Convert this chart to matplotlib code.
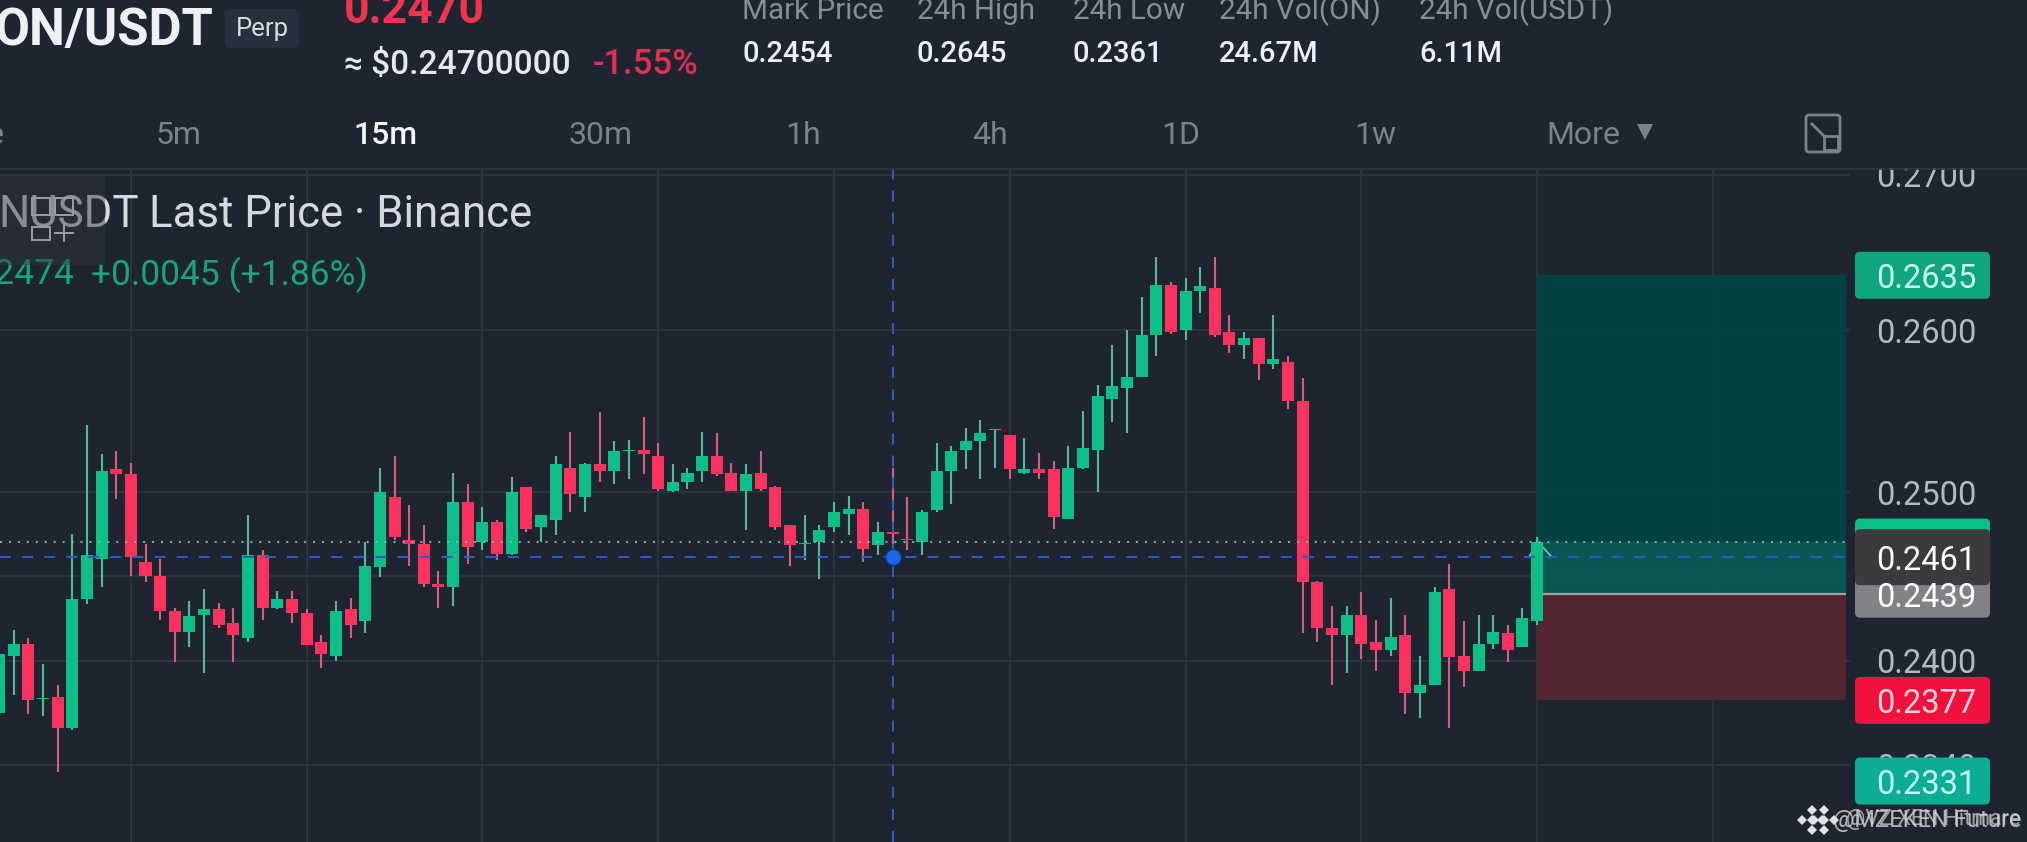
import numpy as np
import matplotlib
matplotlib.use("Agg")
import matplotlib.pyplot as plt
from matplotlib.patches import FancyBboxPatch, Rectangle
from matplotlib.transforms import IdentityTransform
from matplotlib.ticker import NullLocator

plt.rcParams["font.family"] = ["Roboto", "DejaVu Sans"]

W, H = 2027, 842
BG = "#1e2530"
GREEN = "#0dbf87"
RED = "#f9325e"
GRID = "#2b333e"

# ON/USDT 15m candles, oldest first, first one is cut by the left edge
opens = [.2370, .2403, .2410, .2378, .2379, .2361, .2436, .2460, .2514, .2511, .2458, .2450, .2429, .2417, .2427, .2430,
         .2422, .2413, .2462, .2431, .2436, .2428, .2411, .2403, .2430, .2423, .2455, .2497, .2471, .2469, .2445, .2443,
         .2494, .2470, .2482, .2463, .2503, .2479, .2483, .2515, .2497, .2517, .2513, .2525, .2526, .2522, .2501, .2506,
         .2513, .2522, .2512, .2501, .2512, .2503, .2480, .2469, .2470, .2479, .2487, .2490, .2468, .2476, .2472, .2470,
         .2489, .2513, .2526, .2531, .2538, .2535, .2512, .2514, .2514, .2484, .2515, .2526, .2557, .2564, .2571, .2597,
         .2629, .2600, .2625, .2627, .2599, .2591, .2595, .2579, .2580, .2556, .2446, .2419, .2415, .2427, .2411, .2406,
         .2415, .2381, .2386, .2442, .2403, .2394, .2410, .2416, .2408, .2423]
highs = [.2405, .2418, .2413, .2398, .2386, .2475, .2541, .2523, .2525, .2518, .2469, .2460, .2431, .2435, .2442, .2434,
         .2431, .2486, .2465, .2441, .2441, .2430, .2415, .2435, .2437, .2470, .2515, .2522, .2492, .2480, .2453, .2512,
         .2505, .2491, .2483, .2509, .2503, .2486, .2522, .2537, .2518, .2549, .2531, .2532, .2546, .2530, .2517, .2515,
         .2537, .2536, .2518, .2517, .2525, .2504, .2480, .2486, .2480, .2494, .2498, .2494, .2482, .2515, .2497, .2489,
         .2530, .2528, .2539, .2544, .2538, .2535, .2533, .2524, .2519, .2528, .2550, .2566, .2591, .2600, .2621, .2647,
         .2631, .2633, .2640, .2647, .2610, .2599, .2595, .2610, .2584, .2570, .2447, .2432, .2432, .2440, .2424, .2437,
         .2427, .2403, .2443, .2457, .2423, .2427, .2427, .2421, .2431, .2473]
lows = [.2366, .2380, .2369, .2368, .2336, .2360, .2433, .2443, .2496, .2450, .2446, .2424, .2399, .2408, .2393, .2419,
        .2399, .2411, .2424, .2430, .2422, .2409, .2396, .2400, .2413, .2416, .2449, .2471, .2456, .2443, .2431, .2432,
        .2457, .2465, .2459, .2462, .2476, .2470, .2474, .2488, .2488, .2506, .2505, .2508, .2511, .2501, .2500, .2502,
        .2506, .2510, .2501, .2477, .2501, .2477, .2456, .2459, .2448, .2476, .2474, .2458, .2462, .2469, .2465, .2462,
        .2488, .2493, .2514, .2508, .2515, .2508, .2511, .2508, .2478, .2484, .2514, .2500, .2543, .2536, .2571, .2584,
        .2598, .2594, .2611, .2596, .2586, .2582, .2569, .2576, .2551, .2416, .2411, .2386, .2393, .2401, .2394, .2403,
        .2369, .2367, .2386, .2361, .2385, .2394, .2407, .2399, .2408, .2421]
closes = [.2404, .2410, .2377, .2378, .2361, .2436, .2462, .2513, .2511, .2461, .2450, .2429, .2417, .2426, .2430, .2421,
          .2415, .2462, .2431, .2436, .2428, .2409, .2404, .2429, .2421, .2456, .2500, .2473, .2469, .2445, .2443, .2494,
          .2467, .2482, .2463, .2500, .2478, .2486, .2517, .2499, .2517, .2513, .2525, .2526, .2523, .2502, .2506, .2512,
          .2522, .2511, .2501, .2511, .2502, .2479, .2468, .2469, .2477, .2488, .2490, .2466, .2476, .2475, .2471, .2488,
          .2513, .2525, .2531, .2536, .2538, .2514, .2514, .2512, .2485, .2515, .2527, .2559, .2565, .2571, .2597, .2629,
          .2599, .2625, .2628, .2597, .2591, .2595, .2579, .2582, .2556, .2446, .2419, .2415, .2427, .2410, .2406, .2414,
          .2381, .2386, .2440, .2402, .2394, .2410, .2417, .2406, .2425, .2470]

# price axis
y_grid = [.27, .26, .25, .245, .24, .234]
y_labels = ["0.2700", "0.2600", "0.2500", "0.2450", "0.2400", "0.2340"]

# lines and long position tool
last_price = .2470
cross_price = .2461
entry_price = .2439
target_price = .2635
stop_price = .2377
low_marker = .2331
cross_bar = 60

# header text
timeframes = ["5m", "15m", "30m", "1h", "4h", "1D", "1w", "More"]
timeframe_x = [179, 386, 600, 803, 990, 1181, 1375, 1583]
stat_names = ["Mark Price", "24h High", "24h Low", "24h Vol(ON)", "24h Vol(USDT)"]
stat_values = ["0.2454", "0.2645", "0.2361", "24.67M", "6.11M"]
stat_x = [742, 917, 1073, 1219, 1419]


def fx(x, y):
    return x / W, 1 - y / H


def label(x, y, s, **kw):
    kw.setdefault("va", "center")
    fig.text(*fx(x, y), s, **kw)


def price_box(price, s, face, txt="white", height=47):
    # right side price tag, centred on its price
    y = ax.transData.transform((0, price))[1]
    box = FancyBboxPatch((1858, y - height / 2 + 3), 129, height - 6, boxstyle="round,pad=3,rounding_size=5",
                         fc=face, ec="none", transform=IdentityTransform(), clip_on=False, zorder=6)
    ax.add_patch(box)
    ax.text(1926 / 1850, price, s, color=txt, fontsize=23.5, ha="center", va="center_baseline",
            transform=ax.get_yaxis_transform(), zorder=7, clip_on=False)


fig = plt.figure(figsize=(W / 100, H / 100), dpi=100, facecolor=BG)
ax = fig.add_axes([0, 0, 1850 / W, (H - 167) / H], facecolor=BG)
ax.set_yscale("log")
ax.set_xlim(-0.933, 125.36)
ax.set_ylim(.22968, .27051)

x = np.arange(-1, len(opens) - 1)
ax.set_xticks(np.arange(8, 125, 12))
ax.set_yticks(y_grid)
ax.set_yticklabels(y_labels)
ax.yaxis.set_minor_locator(NullLocator())
ax.grid(True, color=GRID, lw=1.5)
ax.set_axisbelow(True)
ax.tick_params(axis="x", length=0, labelbottom=False)
ax.tick_params(axis="y", length=0, left=False, labelleft=False, labelright=True, pad=18.5,
               labelsize=23.5, labelcolor="#b4b9c0")
for s in ax.spines.values():
    s.set_visible(False)

# long position zones
ax.fill_between([104, 125.1], entry_price, last_price, color="#075c56", alpha=.93, lw=0, zorder=1)
ax.fill_between([104, 125.1], last_price, target_price, color="#004544", alpha=.93, lw=0, zorder=1)
ax.fill_between([104, 125.1], stop_price, entry_price, color="#57252f", alpha=.93, lw=0, zorder=1)
ax.hlines(entry_price, 104, 125.1, color="#9aa5a5", lw=1.6, zorder=1.5)

# candles
o, h, l, c = map(np.array, (opens, highs, lows, closes))
up = c >= o
wick_col = np.where(up, "#55b899", "#d6607c")
ax.vlines(x, l, h, colors=wick_col, lw=1.5, zorder=3)
ax.bar(x, np.maximum(np.abs(c - o), .00004), bottom=np.minimum(o, c), width=.82,
       color=np.where(up, GREEN, RED), lw=0, zorder=3.2)

# price lines and crosshair
ax.axhline(last_price, color="#6cc4a6", lw=1.4, ls=(0, (1, 3.6)), zorder=4)
ax.hlines(cross_price, -0.933, 125.1, color="#2a5cc0", lw=1.5, ls=(0, (5.3, 5.3)), zorder=4)
ax.axvline(cross_bar, color="#2a5cc0", lw=1.5, ls=(0, (5.3, 5.3)), zorder=4)
ax.plot([cross_bar], [cross_price], "o", ms=11.5, color="#1a66f0", mec="#12336e", mew=1, zorder=5)
# small arrow of the drawing tool at the last candle
ax.plot([103.5, 104, 104.5, 105], [.2462, .2469, .2466, .2461], color="#7fc4ae", lw=1.2, zorder=3.1)

# price tags, the dark crosshair tag sits on top of the others
price_box(target_price, "0.2635", "#0ea57f", txt="#c8fff2")
price_box(last_price, "", "#0dbf87")
price_box(entry_price, "0.2439", "#808285")
price_box(cross_price, "0.2461", "#3b3b3d", height=56)
price_box(stop_price, "0.2377", "#f2103f", txt="#f7d6dc")
price_box(low_marker, "0.2331", "#0bae94", txt="#c8fff2")

# header band hides the top of the 0.2700 label
fig.add_artist(Rectangle((0, H - 168), W, 168, fc=BG, ec="none", transform=IdentityTransform()))
fig.add_artist(plt.Line2D([0, 1], [1 - 168.5 / H] * 2, color="#2a3640", lw=1.2))

label(214, 31, "ON/USDT", color="#eef0f3", fontsize=36.5, fontweight="bold", ha="right")
fig.add_artist(FancyBboxPatch((228, H - 45), 68, 33, boxstyle="round,pad=3,rounding_size=6",
                              fc="#27303c", ec="none", transform=IdentityTransform()))
label(262, 29, "Perp", color="#d8dce1", fontsize=18.5, ha="center")
label(344, 23, "0.2470", color="#f0334f", fontsize=32, fontweight="bold", va="baseline")
label(344, 74, "≈ $0.24700000", color="#e6e8eb", fontsize=24, va="baseline", fontweight="medium")
label(593, 74, "-1.55%", color="#e0304f", fontsize=25, va="baseline", fontweight="medium")
for xp, name, val in zip(stat_x, stat_names, stat_values):
    label(xp, 11, name, color="#868d98", fontsize=21.3)
    label(xp, 54, val, color="#eef0f3", fontsize=21, fontweight="medium")

label(4, 136, "e", color="#7b828e", fontsize=23, ha="right")
for xp, name in zip(timeframe_x, timeframes):
    active = name == "15m"
    label(xp, 136, name, color="#f2f3f5" if active else "#7b828e", fontsize=23, ha="center",
          fontweight="medium" if active else "normal")
fig.add_artist(plt.Line2D([1645 / W], [1 - 132 / H], marker="v", ms=12, color="#7b828e", mew=0))
# expand icon
fig.add_artist(FancyBboxPatch((1806, H - 152), 34, 37, boxstyle="round,pad=0,rounding_size=3", fc="none",
                              ec="#7b828e", lw=2, transform=IdentityTransform()))
fig.add_artist(Rectangle((1824, H - 150), 14, 14, fc=BG, ec="#7b828e", lw=2, transform=IdentityTransform()))
fig.add_artist(plt.Line2D([1812 / W, 1824 / W], [1 - 124 / H, 1 - 136 / H], color="#7b828e", lw=2))

# chart legend
label(-2, 215, "NUSDT", color="#d5d8dc", fontsize=31.5)
label(149, 215, "Last Price · Binance", color="#d5d8dc", fontsize=31.5)
label(74, 275, "0.2474", color="#17a47f", fontsize=25.5, ha="right")
label(91, 275, "+0.0045 (+1.86%)", color="#17a47f", fontsize=25.5)
# hover overlay with its small buttons, above the legend text
fig.add_artist(Rectangle((0, H - 265), 105, 90, fc="#30343c", ec="none", alpha=.45, zorder=4,
                         transform=IdentityTransform()))
for bx, by, bh in [(32, 215, 17), (55, 215, 17), (32, 240, 13)]:
    fig.add_artist(Rectangle((bx, H - by), 18, bh, fc="none", ec="#9a9ea5", lw=1.4, zorder=4,
                             transform=IdentityTransform()))
fig.add_artist(plt.Line2D([55 / W, 73 / W], [1 - 233 / H] * 2, color="#9a9ea5", lw=1.4, zorder=4))
fig.add_artist(plt.Line2D([64 / W] * 2, [1 - 225 / H, 1 - 241 / H], color="#9a9ea5", lw=1.4, zorder=4))

# watermark, two captions on top of each other
for dx in (0, 12):
    for mx, my in [(0, 0), (-10, 0), (10, 0), (0, -10), (0, 10)]:
        fig.add_artist(plt.Line2D([(1812 + dx + mx) / W], [1 - (820 + my) / H], marker="D", ms=5,
                                  color="#e2e2e2", mew=0, zorder=5))
label(1833, 820, "@MZEKEN Future", color="#d8d8d8", fontsize=17, alpha=.8)
label(1846, 820, "@VZ XEN Hitmare", color="#d8d8d8", fontsize=15.5, alpha=.7)

fig.savefig("out.png", dpi=100, facecolor=BG)
